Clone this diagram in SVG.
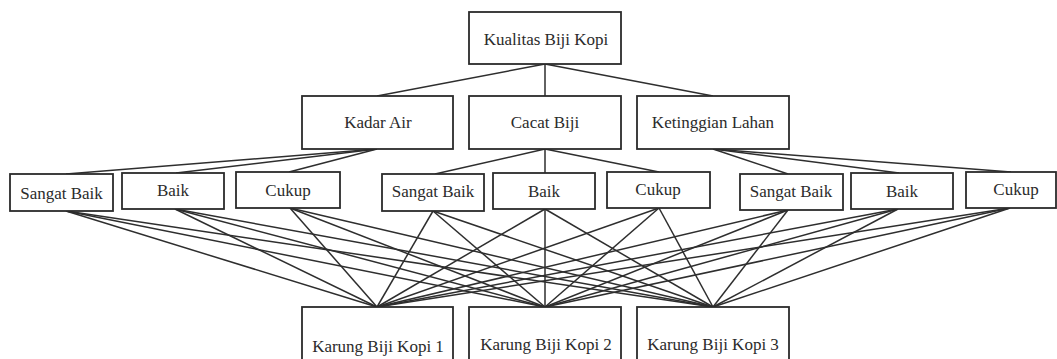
<svg xmlns="http://www.w3.org/2000/svg" width="1057" height="359" viewBox="0 0 1057 359">
<style>
.box{fill:#fff;stroke:#2b2b2b;stroke-width:1.8}
.t{font-family:"Liberation Serif","Times New Roman",serif;font-size:17px;fill:#2b2b2b;text-anchor:middle}
.c line{stroke:#2e2e2e;stroke-width:1.5}
</style>
<rect width="1057" height="359" fill="#fff"/>
<g class="c" id="connectors">
<line x1="545" y1="64" x2="377" y2="96"/>
<line x1="545" y1="64" x2="545" y2="96"/>
<line x1="545" y1="64" x2="713" y2="96"/>
<line x1="377" y1="149" x2="66" y2="174"/>
<line x1="377" y1="149" x2="176" y2="173"/>
<line x1="377" y1="149" x2="289" y2="172"/>
<line x1="545" y1="149" x2="435" y2="174"/>
<line x1="545" y1="149" x2="545" y2="173"/>
<line x1="545" y1="149" x2="659" y2="172"/>
<line x1="713" y1="149" x2="788" y2="174"/>
<line x1="713" y1="149" x2="899" y2="173"/>
<line x1="713" y1="149" x2="1011" y2="172"/>
<line x1="66" y1="211" x2="377" y2="307"/><line x1="66" y1="211" x2="545" y2="307"/><line x1="66" y1="211" x2="713" y2="307"/>
<line x1="175" y1="209" x2="377" y2="307"/><line x1="175" y1="209" x2="545" y2="307"/><line x1="175" y1="209" x2="713" y2="307"/>
<line x1="290" y1="208" x2="377" y2="307"/><line x1="290" y1="208" x2="545" y2="307"/><line x1="290" y1="208" x2="713" y2="307"/>
<line x1="433" y1="211" x2="377" y2="307"/><line x1="433" y1="211" x2="545" y2="307"/><line x1="433" y1="211" x2="713" y2="307"/>
<line x1="545" y1="209" x2="377" y2="307"/><line x1="545" y1="209" x2="545" y2="307"/><line x1="545" y1="209" x2="713" y2="307"/>
<line x1="659" y1="208" x2="377" y2="307"/><line x1="659" y1="208" x2="545" y2="307"/><line x1="659" y1="208" x2="713" y2="307"/>
<line x1="788" y1="210" x2="377" y2="307"/><line x1="788" y1="210" x2="545" y2="307"/><line x1="788" y1="210" x2="713" y2="307"/>
<line x1="898" y1="209" x2="377" y2="307"/><line x1="898" y1="209" x2="545" y2="307"/><line x1="898" y1="209" x2="713" y2="307"/>
<line x1="1010" y1="208" x2="377" y2="307"/><line x1="1010" y1="208" x2="545" y2="307"/><line x1="1010" y1="208" x2="713" y2="307"/>
</g>
<g id="kualitas"><rect class="box" x="469" y="12" width="152" height="52"/><text class="t" x="546" y="45">Kualitas Biji Kopi</text></g>
<g id="kadar-air"><rect class="box" x="302" y="96" width="151" height="53"/><text class="t" x="378" y="128">Kadar Air</text></g>
<g id="cacat-biji"><rect class="box" x="469" y="96" width="152" height="53"/><text class="t" x="545" y="128">Cacat Biji</text></g>
<g id="ketinggian"><rect class="box" x="637" y="96" width="152" height="53"/><text class="t" x="713" y="128">Ketinggian Lahan</text></g>
<g id="sb1"><rect class="box" x="10" y="174" width="103" height="37"/><text class="t" x="61.5" y="199">Sangat Baik</text></g>
<g id="b1"><rect class="box" x="122" y="173" width="102" height="36"/><text class="t" x="173" y="196">Baik</text></g>
<g id="c1"><rect class="box" x="236" y="172" width="104" height="36"/><text class="t" x="288" y="196">Cukup</text></g>
<g id="sb2"><rect class="box" x="382" y="174" width="102" height="37"/><text class="t" x="433" y="197">Sangat Baik</text></g>
<g id="b2"><rect class="box" x="493" y="173" width="102" height="36"/><text class="t" x="544" y="197">Baik</text></g>
<g id="c2"><rect class="box" x="607" y="172" width="103" height="36"/><text class="t" x="658" y="195">Cukup</text></g>
<g id="sb3"><rect class="box" x="740" y="174" width="103" height="36"/><text class="t" x="791" y="197">Sangat Baik</text></g>
<g id="b3"><rect class="box" x="851" y="173" width="102" height="36"/><text class="t" x="902" y="197">Baik</text></g>
<g id="c3"><rect class="box" x="966" y="172" width="90" height="36"/><text class="t" x="1016" y="195">Cukup</text></g>
<g id="k1"><rect class="box" x="302" y="307" width="151" height="60"/><text class="t" x="378" y="352">Karung Biji Kopi 1</text></g>
<g id="k2"><rect class="box" x="469" y="307" width="152" height="60"/><text class="t" x="546" y="350">Karung Biji Kopi 2</text></g>
<g id="k3"><rect class="box" x="637" y="307" width="152" height="60"/><text class="t" x="713" y="350">Karung Biji Kopi 3</text></g>
</svg>
